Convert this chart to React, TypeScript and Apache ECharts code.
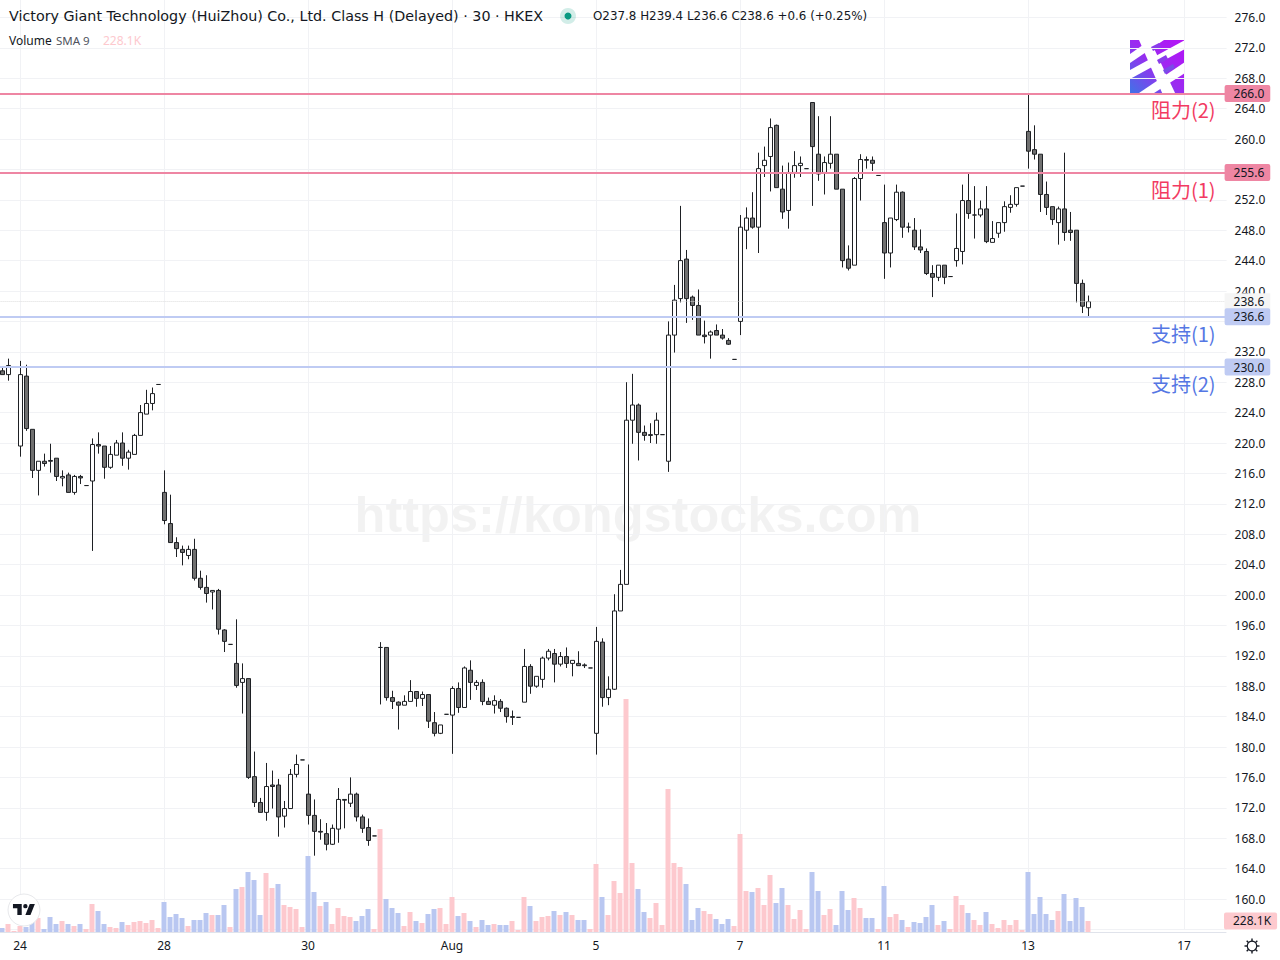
import React, { useEffect, useRef } from "react";
import * as echarts from "echarts";

const slotCount = 206;
const dateTicks: Record<number, string> = { 4: "24", 28: "28", 52: "30", 76: "Aug", 100: "5", 124: "7", 148: "11", 172: "13", 198: "17" };
const categories = Array.from({ length: slotCount }, (_, i) => dateTicks[i] ?? `#${i}`);

const opens = [
  229.5,229.0,230.0,219.6,228.8,221.8,216.4,217.6,217.7,218.0,
  215.4,215.8,213.5,215.6,214.4,215.0,219.8,219.6,216.8,218.4,
  220.0,218.0,218.5,221.0,223.8,225.2,227.7,213.5,209.4,206.9,
  206.0,205.2,206.0,202.2,201.0,200.4,200.6,195.4,193.5,191.0,
  188.5,189.0,176.1,172.7,171.4,175.0,175.0,170.9,171.9,176.4,
  178.3,173.8,171.0,168.9,168.6,167.2,169.2,173.1,172.6,173.8,
  170.8,169.4,168.3,193.1,193.1,186.5,185.9,185.5,186.0,187.3,
  186.4,186.9,183.2,181.8,184.3,184.2,187.7,185.2,190.1,188.1,
  188.5,186.0,185.5,186.0,185.1,184.0,183.9,185.9,190.6,188.0,
  188.9,191.7,192.3,190.9,191.9,191.0,191.0,190.8,190.4,181.8,
  193.8,186.5,187.6,197.9,201.4,223.0,225.0,221.4,221.1,221.1,
  221.1,217.6,234.2,239.0,244.2,239.2,238.1,234.2,234.2,234.8,
  234.2,233.5,231.0,236.0,248.0,249.6,248.4,256.5,257.7,261.8,
  253.4,250.6,255.6,256.5,256.1,264.8,258.0,255.6,256.8,258.0,
  253.4,244.2,243.4,254.8,257.3,257.2,255.2,249.0,245.0,249.4,
  253.0,248.4,248.0,245.8,245.2,242.3,241.8,243.4,241.9,244.0,
  245.2,251.9,250.0,250.0,250.8,246.4,247.6,249.0,251.0,251.4,
  253.8,261.0,258.6,258.0,252.7,251.1,249.0,250.8,248.0,248.0,
  241.0,237.8,
];
const closes = [
  229.0,230.2,230.0,229.0,221.9,216.4,217.6,217.3,217.6,215.6,
  215.6,213.5,215.6,215.4,214.4,219.8,219.6,216.8,218.5,220.0,
  218.0,218.8,221.0,224.0,225.2,226.5,227.7,209.8,206.9,206.1,
  205.6,206.0,202.2,201.0,200.2,200.6,195.5,193.9,193.5,188.1,
  189.0,176.0,172.7,171.4,174.8,174.8,170.8,171.9,176.4,177.7,
  178.3,171.0,168.9,168.8,167.2,169.3,173.1,173.0,173.8,170.8,
  169.3,167.7,168.3,193.1,186.5,186.0,185.5,186.0,187.3,186.4,
  186.9,183.4,181.8,182.9,184.3,187.7,185.2,190.4,188.5,188.5,
  186.0,185.6,186.1,185.1,184.0,183.9,183.9,190.6,188.0,189.3,
  191.7,192.6,190.9,191.9,191.0,191.4,190.7,190.7,190.4,193.9,
  186.5,187.6,197.9,201.4,223.0,225.0,221.4,221.0,221.0,223.0,
  221.1,234.2,238.8,244.0,239.0,238.1,234.2,234.0,234.6,234.2,
  233.8,233.0,231.0,248.4,249.6,248.4,256.1,257.2,261.5,253.6,
  250.4,255.6,256.5,256.8,256.1,259.0,255.4,256.9,258.0,253.4,
  244.0,243.0,254.8,257.3,257.2,256.8,255.2,245.0,249.6,253.0,
  248.4,248.4,245.8,245.4,242.3,241.8,243.4,241.8,241.9,245.6,
  251.9,250.2,250.0,250.8,246.5,246.9,249.0,251.1,251.4,253.6,
  253.8,258.4,258.0,252.7,251.0,249.4,250.8,247.7,247.7,241.0,
  238.0,238.6,
];
const highs = [
  230.0,231.1,230.0,230.8,230.3,221.8,217.6,218.6,219.9,218.0,
  216.4,216.1,215.8,215.8,214.4,220.6,221.4,219.6,219.6,220.4,
  221.4,219.1,221.2,225.0,227.0,227.3,227.7,216.4,213.2,207.6,
  206.5,206.5,207.4,203.2,202.6,200.6,200.8,195.5,193.5,196.8,
  191.0,189.0,179.4,173.3,177.9,176.9,175.8,172.9,177.1,179.0,
  178.3,177.7,173.1,170.5,170.0,169.8,174.6,173.1,176.0,174.0,
  171.1,170.6,168.3,193.8,193.1,187.4,186.0,186.8,188.8,187.3,
  187.3,186.9,184.6,182.9,184.3,188.0,188.5,190.6,191.4,188.8,
  188.9,186.5,186.8,186.3,185.2,184.8,183.9,192.9,190.9,189.3,
  191.9,192.9,192.9,192.5,193.1,191.4,192.6,191.0,190.4,195.8,
  194.3,189.3,200.1,203.3,228.0,229.1,225.2,222.3,222.6,224.0,
  221.1,236.0,240.8,251.2,245.4,239.4,240.2,236.1,234.8,235.6,
  235.0,233.8,231.0,250.0,251.0,253.0,258.2,259.0,262.7,261.9,
  256.5,256.9,258.4,257.7,256.1,264.8,263.0,257.7,263.0,258.0,
  253.4,246.0,255.0,258.0,257.7,257.7,255.2,254.0,249.6,254.0,
  253.1,249.0,249.6,248.1,245.6,243.4,243.4,243.4,241.9,250.2,
  254.0,255.6,253.8,251.9,253.8,249.2,249.0,251.8,252.6,253.6,
  253.8,266.0,261.8,258.0,254.4,251.1,251.1,258.2,250.4,248.0,
  241.5,239.4,
];
const lows = [
  229.0,228.2,230.0,218.2,221.6,215.4,213.1,216.9,216.1,215.0,
  214.3,213.5,213.2,214.6,214.4,205.8,218.6,215.3,216.6,218.4,
  217.0,216.5,218.5,221.0,223.8,224.3,227.7,209.3,206.9,205.0,
  203.9,204.7,201.9,200.7,199.0,198.1,194.8,192.5,193.5,187.8,
  184.4,175.8,172.1,171.4,170.3,171.9,168.2,169.4,171.9,176.0,
  178.3,169.8,165.7,167.8,166.4,167.1,167.4,169.3,172.1,170.2,
  168.7,167.0,168.3,185.6,186.1,185.0,182.3,185.5,186.0,185.3,
  185.4,182.5,181.4,181.7,184.3,179.1,184.5,185.2,186.2,187.5,
  185.5,185.6,184.4,184.6,183.2,182.9,183.9,185.9,187.0,187.8,
  187.8,191.4,188.5,190.6,190.4,189.3,190.7,190.4,190.4,179.0,
  185.3,185.5,187.5,197.9,201.4,219.9,217.7,220.3,220.0,219.9,
  221.1,216.2,231.9,238.5,235.8,236.2,234.2,233.1,231.1,234.2,
  233.6,232.9,231.0,234.2,245.5,248.2,245.0,255.0,253.1,253.6,
  249.5,248.2,254.9,255.0,256.1,251.2,254.5,252.7,256.1,253.4,
  243.1,242.7,243.4,251.9,256.1,255.8,255.2,241.6,243.1,249.2,
  247.0,247.7,245.4,245.0,242.1,239.2,241.3,240.9,241.9,243.2,
  243.5,249.5,246.9,249.7,246.3,246.4,247.0,247.8,250.3,251.1,
  253.8,256.1,257.3,250.4,250.0,248.7,246.1,246.6,246.6,238.5,
  237.1,236.6,
];
// Volume in thousands
const volumes = [
  83,166,21,124,104,207,290,62,311,166,
  228,166,124,166,62,580,435,166,104,83,
  207,145,207,228,186,248,83,621,311,373,
  290,124,248,248,393,352,352,559,104,890,
  932,1242,1076,352,1221,911,994,559,518,476,
  104,1573,828,538,621,166,497,331,311,228,
  331,476,62,2132,683,497,393,124,414,228,
  186,373,476,497,166,725,331,393,228,104,
  248,145,166,145,145,228,41,725,538,228,
  311,331,435,352,414,352,248,248,62,1408,
  725,352,1056,807,4823,1428,890,414,290,600,
  145,2960,1428,1346,994,248,497,435,373,269,
  166,269,124,2029,849,828,911,559,1180,600,
  911,559,269,455,62,1242,849,352,476,145,
  849,455,704,497,290,290,62,952,311,373,
  248,104,207,186,311,559,145,228,62,745,
  559,393,248,145,414,166,83,248,145,248,
  41,1242,373,725,373,248,435,787,228,704,
  518,228.1,
];
const volumeSides =
  "bpppbbpbbb" + "pbpbppbbpp" + "bppppppbbb" + "bpbbbpbbpb" + "pbbbppbppp" + "pbbpbppppb" +
  "bbppbbbppb" + "pbbpppbpbp" + "bbpbbpppbp" + "ppbpbpbbpp" + "bpppppbbpp" + "ppppbbbppb" +
  "bbpppbpppb" + "bppppbbppb" + "bbppbbpbpp" + "bpbbbbpbpp" + "pbppbppppp" + "pbbbbbpbbb" + "bp";

const resistanceLevels = [266.0, 255.6];
const supportLevels = [236.6, 230.0];
const lastPrice = 238.6;
const lastVolume = 228.1;
const coveredTicks = [156, 236, 256, 280];

const titleText = "Victory Giant Technology (HuiZhou) Co., Ltd. Class H (Delayed) · 30 · HKEX";
const ohlcText = "O237.8 H239.4 L236.6 C238.6 +0.6 (+0.25%)";

const INK = "#131722";
const GRID = "#F1F2F5";
const PINK = "#FDC9CE";
const BLUE = "#B9C7F1";
const LINE_PINK = "#EE86A3";
const LINE_BLUE = "#BFCBF3";
const FONT = '"Noto Sans", sans-serif';
const WIDE = '"DejaVu Sans", sans-serif';

echarts.graphic.registerShape(
  "tvmark",
  echarts.graphic.extendPath("M14 6H2v6h6v9h6V6Zm12 15h-7l6-15h7l-6 15Zm-7-9a3 3 0 1 0 0-6 3 3 0 0 0 0 6Z", {})
);

const showDate = (i: number) => dateTicks[i] !== undefined;

const levelLine = (value: number, color: string) => ({
  yAxis: value,
  lineStyle: { color, width: 2, type: "solid" },
  label: {
    show: true,
    position: "end",
    distance: -2,
    formatter: value.toFixed(1),
    color: INK,
    fontFamily: FONT,
    fontSize: 12,
    backgroundColor: color,
    borderRadius: 2,
    padding: [3, 6, 2, 9],
  },
});

const noteText = (text: string, y: number, fill: string) => ({
  type: "text",
  x: 1151,
  y,
  z: 20,
  style: { text, fill, font: `20px "Noto Sans CJK SC", ${FONT}`, textVerticalAlign: "middle" },
});

const headText = (text: string, x: number, y: number, fill: string, size = 12, family = FONT) => ({
  type: "text",
  x,
  y,
  z: 20,
  style: { text, fill, font: `${size}px ${family}`, textVerticalAlign: "middle" },
});

const white = (points: number[][]) => ({ type: "polygon", shape: { points }, style: { fill: "#fff" } });

const gearTeeth = [0, 45, 90, 135].map((deg) => ({
  type: "rect",
  x: 1252,
  y: 946,
  rotation: (deg * Math.PI) / 180,
  shape: { x: -7.5, y: -0.7, width: 15, height: 1.4 },
  style: { fill: INK },
}));

export default function App() {
  const ref = useRef<HTMLDivElement>(null);
  useEffect(() => {
    const chart = echarts.init(ref.current!, undefined, { renderer: "svg" });
    const candles = opens.map((o, i) => [i + 1, o, closes[i], lows[i], highs[i]]);
    const volumeData = volumes.map((v, i) => ({
      value: [i + 1, v],
      itemStyle: { color: volumeSides[i] === "p" ? PINK : BLUE },
    }));
    chart.setOption({
      animation: false,
      backgroundColor: "#fff",
      grid: [
        { left: -3.4, top: -13, width: 1230, height: 942.4, outerBoundsMode: "none" },
        { left: -4, top: 632, width: 1230, height: 300, outerBoundsMode: "none" },
      ],
      xAxis: [
        {
          type: "category",
          gridIndex: 0,
          data: categories,
          boundaryGap: false,
          axisLine: { show: false },
          axisTick: { show: false },
          axisLabel: { show: false },
          splitLine: { show: true, interval: showDate, lineStyle: { color: GRID, width: 1 } },
        },
        {
          type: "category",
          gridIndex: 1,
          data: categories,
          boundaryGap: false,
          axisLine: { show: true, lineStyle: { color: "#E0E3EB", width: 1 } },
          axisTick: { show: false },
          axisLabel: {
            show: true,
            interval: showDate,
            color: INK,
            fontFamily: FONT,
            fontSize: 12,
            margin: 7,
          },
          splitLine: { show: false },
        },
      ],
      yAxis: [
        {
          type: "value",
          gridIndex: 0,
          position: "right",
          min: 156,
          max: 280,
          interval: 4,
          axisLine: { show: false },
          axisTick: { show: false },
          axisLabel: {
            margin: 8,
            color: INK,
            fontFamily: FONT,
            fontSize: 12,
            formatter: (v: number) => (coveredTicks.includes(v) ? "" : v.toFixed(1)),
          },
          splitLine: { show: true, lineStyle: { color: GRID, width: 1 } },
        },
        {
          type: "value",
          gridIndex: 1,
          min: 0,
          max: 6210,
          show: false,
          splitLine: { show: false },
        },
      ],
      series: [
        {
          type: "bar",
          name: "Volume",
          xAxisIndex: 1,
          yAxisIndex: 1,
          barWidth: 5,
          z: 1,
          encode: { x: 0, y: 1 },
          data: volumeData,
          markLine: {
            silent: true,
            symbol: "none",
            z: 6,
            data: [
              {
                yAxis: lastVolume,
                lineStyle: { color: "rgba(0,0,0,0)", width: 1, opacity: 1 },
                label: {
                  show: true,
                  opacity: 1,
                  position: "end",
                  distance: -2,
                  formatter: "228.1K",
                  color: INK,
                  fontFamily: FONT,
                  fontSize: 12,
                  backgroundColor: PINK,
                  borderRadius: 2,
                  padding: [3, 6, 2, 9],
                },
              },
            ],
          },
        },
        {
          type: "candlestick",
          name: "Price",
          xAxisIndex: 0,
          yAxisIndex: 0,
          barWidth: 4,
          z: 3,
          encode: { x: 0, y: [1, 2, 3, 4] },
          itemStyle: {
            color: "#FFFFFF",
            color0: "#707070",
            borderColor: "#1E2024",
            borderColor0: "#1E2024",
            borderColorDoji: "#1E2024",
            borderWidth: 1,
          },
          data: candles,
          markLine: {
            silent: true,
            symbol: "none",
            z: 4,
            data: [
              {
                yAxis: lastPrice,
                lineStyle: { color: "#DDDDDD", width: 1, type: "dotted" },
                label: {
                  show: true,
                  position: "end",
                  distance: -2,
                  formatter: lastPrice.toFixed(1),
                  color: INK,
                  fontFamily: FONT,
                  fontSize: 12,
                  backgroundColor: "#F5F5F5",
                  padding: [3, 6, 2, 9],
                },
              },
              ...resistanceLevels.map((v) => levelLine(v, LINE_PINK)),
              ...supportLevels.map((v) => levelLine(v, LINE_BLUE)),
            ],
          },
        },
      ],
      graphic: [
        {
          type: "text",
          x: 638,
          y: 514,
          z: 0,
          style: {
            text: "https://kongstocks.com",
            fill: "rgba(0,0,0,0.05)",
            font: 'bold 50.5px "Liberation Sans", sans-serif',
            textAlign: "center",
            textVerticalAlign: "middle",
          },
        },
        headText(titleText, 9, 16, INK, 14.3, WIDE),
        { type: "circle", x: 568, y: 16, z: 20, shape: { r: 8 }, style: { fill: "rgba(8,153,129,0.18)" } },
        { type: "circle", x: 568, y: 16, z: 21, shape: { r: 3.5 }, style: { fill: "#089981" } },
        headText(ohlcText, 593, 16, INK, 11.9, WIDE),
        headText("Volume", 9, 40, INK, 12),
        headText("SMA 9", 56, 40, "#50535E", 11.5),
        headText("228.1K", 103, 40, PINK, 12),
        noteText("阻力(2)", 109, "#F23A62"),
        noteText("阻力(1)", 189, "#F23A62"),
        noteText("支持(1)", 333, "#5577E4"),
        noteText("支持(2)", 383, "#5577E4"),
        {
          type: "group",
          x: 1130,
          y: 40,
          z: 20,
          children: [
            {
              type: "rect",
              shape: { x: 0, y: 0, width: 55, height: 55 },
              style: {
                fill: new echarts.graphic.LinearGradient(0, 1, 1, 0, [
                  { offset: 0, color: "#3C76E6" },
                  { offset: 0.5, color: "#9A2BF0" },
                  { offset: 1, color: "#B612F7" },
                ]),
              },
            },
            white([[0, 14], [20, 0], [34, 0], [0, 23]]),
            white([[0, 30], [55, 0], [55, 9], [0, 39]]),
            white([[6, 55], [55, 22], [55, 33], [21, 55]]),
            white([[9, 0], [20, 0], [46, 55], [33, 55]]),
            { type: "polygon", shape: { points: [[21, 7], [29, 3], [31, 7], [23, 11]] }, style: { fill: "#8A3CEB" } },
            { type: "polygon", shape: { points: [[33, 30], [43, 24], [45, 28], [35, 34]] }, style: { fill: "#7A4CE8" } },
            { type: "polygon", shape: { points: [[27, 20], [36, 15], [38, 19], [29, 24]] }, style: { fill: "#8A3CEB" } },
          ],
        },
        { type: "circle", x: 24, y: 910, z: 20, shape: { r: 16 }, style: { fill: "#fff", stroke: "#E8E9EC", lineWidth: 1 } },
        { type: "tvmark", x: 11.5, y: 899.6, scaleX: 0.73, scaleY: 0.73, z: 21, style: { fill: INK } },
        ...gearTeeth.map((t) => ({ ...t, z: 20 })),
        { type: "circle", x: 1252, y: 946, z: 21, shape: { r: 4.8 }, style: { fill: "#fff", stroke: INK, lineWidth: 1.2 } },
      ],
    });
    return () => chart.dispose();
  }, []);
  return <div ref={ref} style={{ position: "absolute", left: 0, top: 0, width: 1280, height: 960 }} />;
}
